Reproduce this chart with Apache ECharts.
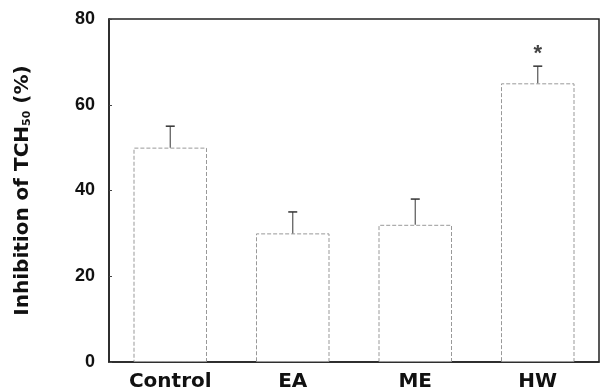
<!DOCTYPE html>
<html><head><meta charset="utf-8">
<script src="https://cdn.jsdelivr.net/npm/echarts@6/dist/echarts.min.js"></script>
<style>html,body{margin:0;padding:0;background:#fff}#c{width:600px;height:392px}</style>
</head><body><div id="c"></div>
<script>
const categories = ['Control', 'EA', 'ME', 'HW'];
const means = [50, 30, 32, 65];
const errors = [5, 5, 6, 4];
const significance = ['', '', '', '*'];
const yTicks = [0, 20, 40, 60, 80];

const chart = echarts.init(document.getElementById('c'));
const FONT = 'Liberation Sans';
const FONT2 = 'DejaVu Sans';
chart.setOption({
  animation: false,
  backgroundColor: '#fff',
  grid: { left: 109, right: 1, top: 19, bottom: 30, show: true, borderColor: '#222', borderWidth: 1.5, backgroundColor: 'transparent' },
  xAxis: {
    type: 'category', data: categories,
    axisLine: { lineStyle: { color: '#222', width: 1.5 } },
    axisTick: { show: false },
    axisLabel: { fontFamily: FONT2, fontWeight: 'bold', fontSize: 20, color: '#111', margin: 10 }
  },
  yAxis: {
    type: 'value', min: yTicks[0], max: yTicks[yTicks.length - 1], interval: 20,
    axisLine: { show: true, lineStyle: { color: '#222', width: 1.5 } },
    axisTick: { show: true, inside: true, length: 3, lineStyle: { color: '#444' } },
    splitLine: { show: false },
    axisLabel: { fontFamily: FONT, fontWeight: 'bold', fontSize: 18, color: '#111', margin: 14 },
    name: '{a|Inhibition of TCH}{s|50}{a| (%)}',
    nameLocation: 'middle', nameGap: 76,
    nameTextStyle: {
      rich: {
        a: { fontFamily: FONT2, fontSize: 20, color: '#111', fontWeight: 'bold' },
        s: { fontFamily: FONT2, fontSize: 11, color: '#111', fontWeight: 'bold', verticalAlign: 'bottom', padding: [10, 0, 0, 0] }
      }
    }
  },
  series: [
    {
      type: 'bar', data: means, barCategoryGap: '40%',
      itemStyle: { color: '#fff', borderColor: '#999', borderWidth: 1, borderType: 'dashed' }
    },
    {
      type: 'custom',
      data: categories.map((c, i) => [i, means[i], errors[i], significance[i]]),
      renderItem: function (params, api) {
        const x = api.value(0);
        const base = api.coord([x, api.value(1)]);
        const top = api.coord([x, api.value(1) + api.value(2)]);
        const hw = 4.5;
        const children = [
          { type: 'line', shape: { x1: base[0], y1: base[1], x2: top[0], y2: top[1] }, style: { stroke: '#555', lineWidth: 1.2 } },
          { type: 'line', shape: { x1: top[0] - hw, y1: top[1], x2: top[0] + hw, y2: top[1] }, style: { stroke: '#333', lineWidth: 1.5 } }
        ];
        const sig = api.value(3);
        if (sig) {
          children.push({ type: 'text', style: { text: sig, x: top[0], y: top[1] - 1, align: 'center', verticalAlign: 'bottom', fontFamily: FONT, fontWeight: 'bold', fontSize: 22, fill: '#444' } });
        }
        return { type: 'group', children };
      },
      z: 5
    }
  ]
});
</script></body></html>
